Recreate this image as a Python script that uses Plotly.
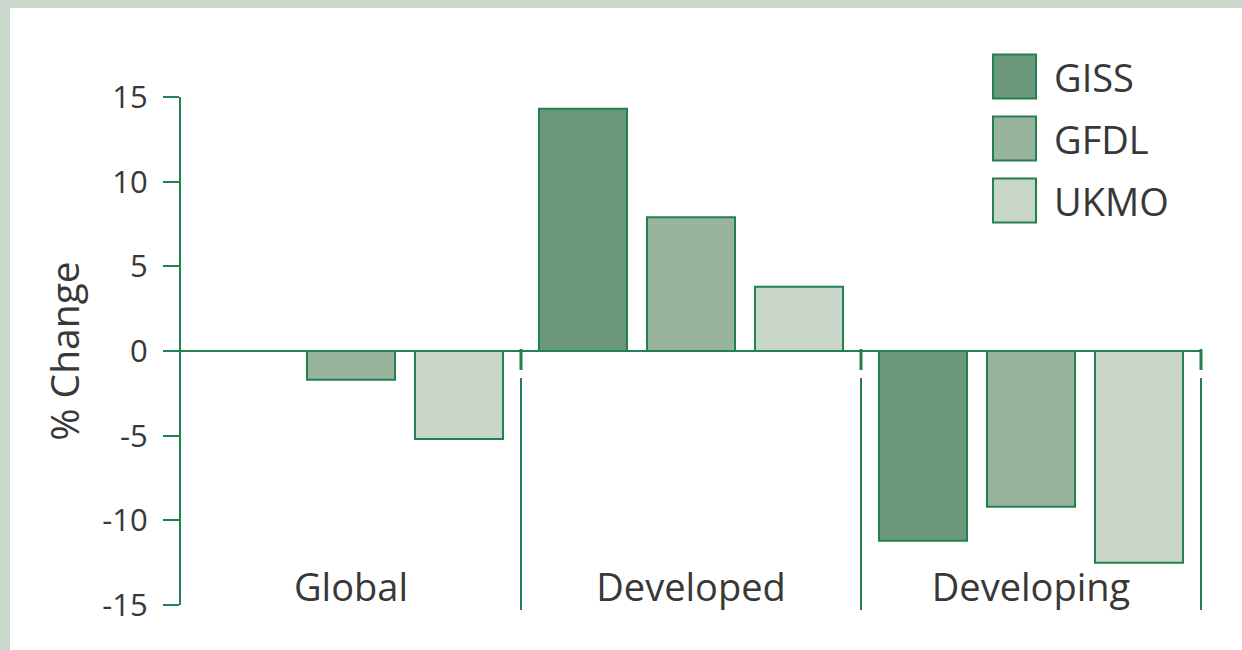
import plotly.graph_objects as go

# Percent change by region for three climate models
regions = ["Global", "Developed", "Developing"]
models = ["GISS", "GFDL", "UKMO"]
giss = [0.0, 14.3, -11.2]
gfdl = [-1.7, 7.9, -9.2]
ukmo = [-5.2, 3.8, -12.5]
y_ticks = [-15, -10, -5, 0, 5, 10, 15]

series = {"GISS": giss, "GFDL": gfdl, "UKMO": ukmo}
fills = {"GISS": "#6b977a", "GFDL": "#99b49d", "UKMO": "#c8d6c9"}
GREEN = "#23804f"
FRAME = "#c9d8ca"
TEXT = "#383838"
FONT = "Open Sans, Noto Sans, sans-serif"

# plot area in pixels (for margins and paper-coordinate helpers)
W, H = 1242, 650
L, R, T, B = 181, 41, 97, 45
PW, PH = W - L - R, H - T - B


def px_x(p):
    return (p - L) / PW


def px_y(p):
    return (H - B - p) / PH


fig = go.Figure()
for name in models:
    fig.add_trace(
        go.Bar(
            x=regions,
            y=series[name],
            name=name,
            marker=dict(color=fills[name], line=dict(color=GREEN, width=2)),
            showlegend=False,
        )
    )

shapes = [
    # light green frame along the top and left edges
    dict(type="rect", xref="paper", yref="paper", layer="below",
         x0=px_x(-20), x1=px_x(10), y0=px_y(H + 20), y1=px_y(-20),
         fillcolor=FRAME, line=dict(width=0)),
    dict(type="rect", xref="paper", yref="paper", layer="below",
         x0=px_x(-20), x1=px_x(W + 20), y0=px_y(8), y1=px_y(-20),
         fillcolor=FRAME, line=dict(width=0)),
]
# category separators: short tick under zero line, then long divider
for i in range(len(regions)):
    xp = (i + 1) / len(regions)
    shapes.append(dict(type="line", xref="paper", yref="paper",
                       x0=xp, x1=xp, y0=px_y(349), y1=px_y(370),
                       line=dict(color=GREEN, width=3)))
    shapes.append(dict(type="line", xref="paper", yref="paper",
                       x0=xp, x1=xp, y0=px_y(378), y1=px_y(610),
                       line=dict(color=GREEN, width=2)))

# legend drawn by hand so the swatches can be large
annotations = []
for k, name in enumerate(models):
    cy = 76.5 + 62 * k
    shapes.append(dict(type="rect", xref="paper", yref="paper",
                       x0=px_x(993), x1=px_x(1036), y0=px_y(cy + 22), y1=px_y(cy - 22),
                       fillcolor=fills[name], line=dict(color=GREEN, width=2)))
    annotations.append(dict(xref="paper", yref="paper", x=px_x(1052), y=px_y(cy),
                            text=name, showarrow=False, xanchor="left", yanchor="middle",
                            font=dict(size=38, color=TEXT, family=FONT)))

fig.update_layout(
    width=W,
    height=H,
    margin=dict(l=L, r=R, t=T, b=B),
    paper_bgcolor="white",
    plot_bgcolor="white",
    barmode="group",
    bargap=0.047,
    bargroupgap=0.185,
    font=dict(family=FONT, color=TEXT),
    shapes=shapes,
    annotations=annotations,
)
fig.update_xaxes(
    range=[-0.5, 2.5],
    anchor="free",
    position=px_y(562),
    showline=False,
    showgrid=False,
    ticks="",
    tickfont=dict(size=38, color=TEXT),
)
fig.update_yaxes(
    range=[-15, 15],
    tickvals=y_ticks,
    ticktext=[str(v) for v in y_ticks],
    showgrid=False,
    showline=True,
    linecolor=GREEN,
    linewidth=2,
    ticks="outside",
    ticklen=16,
    tickwidth=2,
    tickcolor=GREEN,
    ticklabelstandoff=9,
    tickfont=dict(size=31, color=TEXT),
    zeroline=True,
    zerolinecolor=GREEN,
    zerolinewidth=2,
    title=dict(text="% Change", font=dict(size=39, color=TEXT), standoff=11),
)

# drop the default body margin so the figure fills the window exactly
fig.write_html(
    "out.html",
    config={"displayModeBar": False},
    post_script="document.body.style.margin = '0';",
)
